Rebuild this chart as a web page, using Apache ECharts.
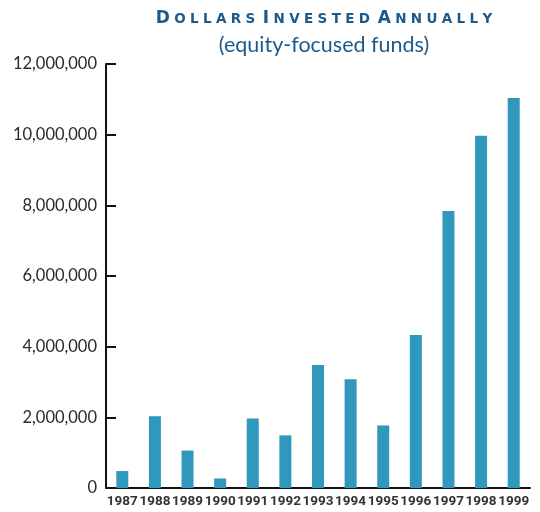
<!DOCTYPE html>
<html>
<head>
<meta charset="utf-8">
<script src="https://cdn.jsdelivr.net/npm/echarts@6/dist/echarts.min.js"></script>
<style>html,body{margin:0;padding:0;background:#fff}#c{width:540px;height:512px}</style>
</head>
<body>
<div id="c"></div>
<script>
const years = ['1987','1988','1989','1990','1991','1992','1993','1994','1995','1996','1997','1998','1999'];
const dollars = [480000, 2030000, 1060000, 270000, 1970000, 1490000, 3480000, 3080000, 1770000, 4330000, 7840000, 9970000, 11040000];
const yTicks = [0, 2000000, 4000000, 6000000, 8000000, 10000000, 12000000];
const titleText = 'Dollars Invested Annually';
const subtitleText = '(equity-focused funds)';

// small-caps with letter spacing via rich text tokens
function smallCaps(s) {
  const parts = [];
  s.split(' ').forEach((w, wi) => {
    if (wi > 0) parts.push('{w| }');
    w.split('').forEach((ch, i) => {
      if (i > 0) parts.push('{s| }');
      parts.push(i === 0 ? '{a|' + ch.toUpperCase() + '}' : '{b|' + ch.toUpperCase() + '}');
    });
  });
  return parts.join('');
}

const chart = echarts.init(document.getElementById('c'), null, {renderer: 'canvas'});
const base = {fontFamily: 'DejaVu Sans', fontWeight: 'bold', color: '#1d5a8c'};
chart.setOption({
  animation: false,
  title: {
    text: smallCaps(titleText),
    subtext: subtitleText,
    left: 319, top: 3, textAlign: 'center',
    itemGap: 4,
    textStyle: {rich: {
      a: Object.assign({fontSize: 17}, base),
      b: Object.assign({fontSize: 13.5}, base),
      s: {fontSize: 12.5, fontFamily: 'DejaVu Sans'},
      w: {fontSize: 22, fontFamily: 'DejaVu Sans'}
    }},
    subtextStyle: {fontFamily: 'Lato', fontSize: 21.5, color: '#1d5a8c'}
  },
  grid: {left: 106, right: 10, top: 64, bottom: 24, containLabel: false},
  xAxis: {
    type: 'category', data: years, boundaryGap: true,
    axisLine: {lineStyle: {color: '#111', width: 2}},
    axisTick: {inside: true, length: 10, lineStyle: {color: '#111', width: 2}},
    axisLabel: {interval: 0, fontFamily: 'Roboto', fontWeight: 'bold', fontSize: 13.5, color: '#333', margin: 7}
  },
  yAxis: {
    type: 'value', min: yTicks[0], max: yTicks[yTicks.length - 1], interval: 2000000,
    splitLine: {show: false},
    axisLine: {show: true, lineStyle: {color: '#111', width: 2}},
    axisTick: {show: true, inside: true, length: 10, lineStyle: {color: '#111', width: 2}},
    axisLabel: {fontFamily: 'Lato', fontSize: 16.5, color: '#2a2a2a', margin: 9,
      formatter: v => v.toLocaleString('en-US')}
  },
  series: [{
    type: 'bar', data: dollars, barWidth: 12,
    itemStyle: {color: '#2f98bc'}
  }]
});
</script>
</body>
</html>
